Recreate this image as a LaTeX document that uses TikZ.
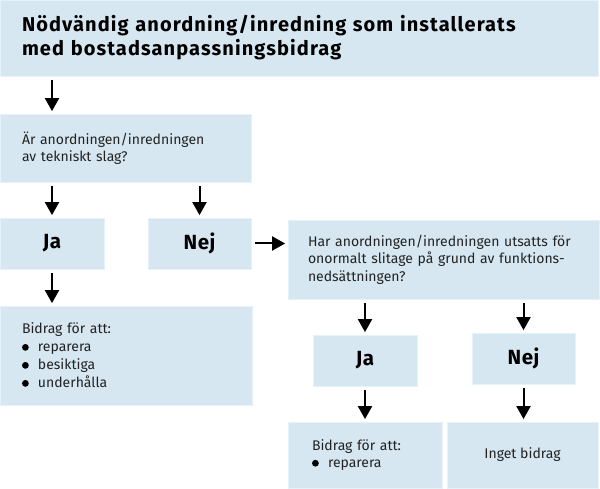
\documentclass[tikz,border=0pt]{standalone}
\usepackage{fontspec}
\setmainfont{Fira Sans}
\newfontfamily\titlefont[LetterSpace=5.5]{Fira Sans}
\newfontfamily\ansfont[LetterSpace=3]{Fira Sans}
\usetikzlibrary{arrows.meta}
\definecolor{boxfill}{HTML}{D6E7F1}
\definecolor{boxline}{HTML}{E6F2FA}
\definecolor{txt}{HTML}{222222}
\newcommand{\bul}{\makebox[16pt][l]{\tikz[x=1pt,y=1pt,baseline=0pt]{\fill[black] (3.5,4.5) circle (3.4);}}}
\tikzset{
  boxbase/.style={rectangle, fill=boxfill, draw=boxline, line width=0.8pt, inner ysep=0pt, inner xsep=22pt, align=left, text=txt, font=\fontsize{14}{17.5}\selectfont},
  bx/.style n args={2}{boxbase, minimum width=#1, minimum height=#2, text width=#1-44pt},
  ans/.style n args={2}{rectangle, fill=boxfill, draw=boxline, line width=0.8pt, inner sep=0pt, minimum width=#1, minimum height=#2, font=\ansfont\fontsize{20.5}{24}\selectfont\bfseries, text=black},
  arr/.style={line width=2pt, -{Triangle[length=13pt,width=14pt]}, shorten <=4pt, shorten >=2.5pt}
}
\begin{document}
\begin{tikzpicture}[x=1pt,y=-1pt]
\useasboundingbox (0,0) rectangle (600,489);
\node[bx={598pt}{76pt}, font=\titlefont\fontsize{20}{24}\selectfont\bfseries, text=black] (top) at (299,38)
  {Nödvändig anordning/inredning som installerats\\med bostadsanpassningsbidrag};
\node[bx={251pt}{68pt}] (q1) at (125.5,148) {Är anordningen/inredningen\\av tekniskt slag?};
\node[ans={104pt}{51pt}] (ja1) at (52,243.5) {Ja};
\node[ans={103pt}{51pt}] (nej1) at (199.5,243.5) {Nej};
\node[bx={252pt}{99pt}, font=\fontsize{14}{18}\selectfont] (b1) at (126,355.5)
  {Bidrag för att:\\\bul reparera\\\bul besiktiga\\\bul underhålla};
\node[bx={311pt}{79pt}, inner xsep=20pt, text width=271pt] (q2) at (443.5,259.5)
  {Har anordningen/inredningen utsatts för\\onormalt slitage på grund av funktions-\\nedsättningen?};
\node[ans={104pt}{51pt}] (ja2) at (365,360.5) {Ja};
\node[ans={103pt}{51pt}] (nej2) at (523.5,358.5) {Nej};
\node[bx={154pt}{66pt}, inner xsep=24pt, text width=106pt] (b2) at (365,455)
  {Bidrag för att:\\\bul reparera};
\node[boxbase, inner xsep=0pt, align=center, minimum width=151pt, minimum height=66pt] (inget) at (522.5,455) {Inget bidrag};
\draw[arr] (top.south -| ja1.north) -- (q1.north -| ja1.north);
\draw[arr] (q1.south -| ja1.north) -- (ja1.north);
\draw[arr] (q1.south -| nej1.north) -- (nej1.north);
\draw[arr] (ja1.south) -- (b1.north -| ja1.south);
\draw[arr] (nej1.east) -- (nej1.east -| q2.west);
\draw[arr] (q2.south -| ja2.north) -- (ja2.north);
\draw[arr] (q2.south -| nej2.north) -- (nej2.north);
\draw[arr] (ja2.south) -- (b2.north -| ja2.south);
\draw[arr] (nej2.south) -- (inget.north -| nej2.south);
\end{tikzpicture}
\end{document}
